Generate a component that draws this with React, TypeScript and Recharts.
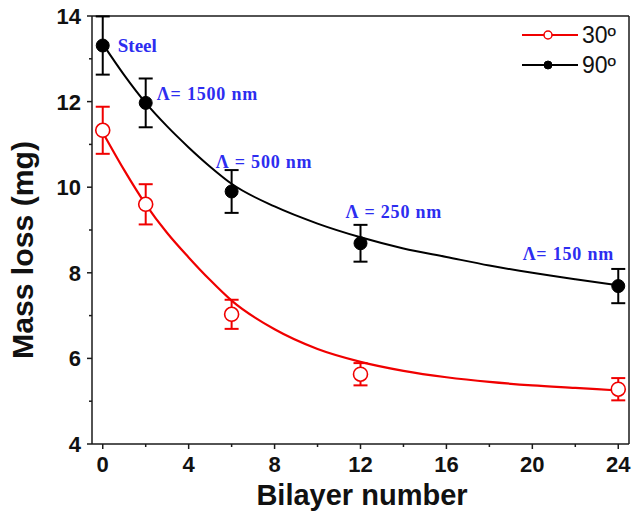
import React from 'react';
import {
  ComposedChart,
  Line,
  XAxis,
  YAxis,
  ErrorBar,
  ReferenceLine,
  ReferenceDot,
  Legend,
  Label,
} from 'recharts';

// Measured points
const bilayers = [0, 2, 6, 12, 24];
const mass30 = [11.33, 9.6, 7.03, 5.63, 5.28];
const err30 = [0.55, 0.47, 0.34, 0.26, 0.26];
const mass90 = [13.31, 11.97, 9.9, 8.69, 7.69];
const err90 = [0.68, 0.57, 0.5, 0.43, 0.4];

// Fitted curves
const fitX = [0, 1, 2, 3, 4, 5, 6, 8, 10, 12, 14, 16, 18, 20, 22, 24];
const fit30 = [11.28, 10.4, 9.6, 8.93, 8.36, 7.83, 7.35, 6.68, 6.22, 5.92, 5.71, 5.56, 5.45, 5.37, 5.31, 5.25];
const fit90 = [13.35, 12.62, 11.97, 11.42, 10.93, 10.48, 10.08, 9.55, 9.15, 8.83, 8.57, 8.37, 8.17, 8.0, 7.85, 7.71];

const xTicks = [0, 2, 4, 6, 8, 10, 12, 14, 16, 18, 20, 22, 24];
const yTicks = [4, 5, 6, 7, 8, 9, 10, 11, 12, 13, 14];

const seriesNames = ['30º', '90º'];
const annotationTexts = ['Steel', 'Λ= 1500 nm', 'Λ = 500 nm', 'Λ = 250 nm', 'Λ= 150 nm'];
const annotationX = [0.7, 2.52, 5.26, 11.3, 19.55];
const annotationY = [13.17, 12.04, 10.44, 9.27, 8.3];

const pts30 = bilayers.map((x, i) => ({ x, y: mass30[i], err: err30[i] }));
const pts90 = bilayers.map((x, i) => ({ x, y: mass90[i], err: err90[i] }));
const fitData30 = fitX.map((x, i) => ({ x, y: fit30[i] }));
const fitData90 = fitX.map((x, i) => ({ x, y: fit90[i] }));

const RED = '#f00000';
const BLACK = '#000000';
const AXIS = '#1a1a1a';
const BLUE = '#2d2df0';
const SANS = '"Liberation Sans", Arial, Helvetica, sans-serif';
const SERIF = '"Liberation Serif", "Times New Roman", serif';

const XTick = (props: any) => {
  const { x, y, payload } = props;
  const major = payload.value % 4 === 0;
  return (
    <g>
      <line x1={x} y1={y} x2={x} y2={y + (major ? 5 : 3)} stroke={AXIS} strokeWidth={1.5} />
      {major && (
        <text x={x} y={y + 28} textAnchor="middle" fontFamily={SANS} fontWeight="bold" fontSize={22} fill="#111">
          {payload.value}
        </text>
      )}
    </g>
  );
};

const YTick = (props: any) => {
  const { x, y, payload } = props;
  const major = payload.value % 2 === 0;
  return (
    <g>
      <line x1={x} y1={y} x2={x - (major ? 5 : 3)} y2={y} stroke={AXIS} strokeWidth={1.5} />
      {major && (
        <text x={x - 11} y={y} dy="0.36em" textAnchor="end" fontFamily={SANS} fontWeight="bold" fontSize={22} fill="#111">
          {payload.value}
        </text>
      )}
    </g>
  );
};

const renderLegend = () => (
  <svg width={120} height={64} style={{ display: 'block' }}>
    <line x1={4} y1={17} x2={60} y2={17} stroke={RED} strokeWidth={2} />
    <circle cx={30} cy={17} r={4} fill="#fff" stroke={RED} strokeWidth={1.5} />
    <text x={64} y={25} fontFamily={SANS} fontSize={23} fill="#111">{seriesNames[0]}</text>
    <line x1={4} y1={47} x2={60} y2={47} stroke={BLACK} strokeWidth={2} />
    <circle cx={30} cy={47} r={4} fill={BLACK} stroke={BLACK} strokeWidth={1} />
    <text x={64} y={55} fontFamily={SANS} fontSize={23} fill="#111">{seriesNames[1]}</text>
  </svg>
);

const makeAnnotation = (text: string, i: number) => (props: any) => {
  const vb = props.viewBox || {};
  const cx = (vb.x || 0) + (vb.width || 0) / 2;
  const cy = (vb.y || 0) + (vb.height || 0) / 2;
  return (
    <text
      x={cx}
      y={cy}
      textAnchor="start"
      fontFamily={SERIF}
      fontWeight="bold"
      fontSize={i === 0 ? 19 : 18}
      letterSpacing={i === 0 ? 0 : 0.8}
      fill={BLUE}
    >
      {text}
    </text>
  );
};

const renderYLabel = () => (
  <text
    x={33}
    y={250}
    transform="rotate(-90, 33, 250)"
    textAnchor="middle"
    fontFamily={SANS}
    fontWeight="bold"
    fontSize={29}
    textLength={218}
    lengthAdjust="spacingAndGlyphs"
    fill="#111"
  >
    Mass loss (mg)
  </text>
);

const renderXLabel = () => (
  <text x={362} y={505} textAnchor="middle" fontFamily={SANS} fontWeight="bold" fontSize={29} fill="#111">
    Bilayer number
  </text>
);

export default function App() {
  return (
    <div style={{ position: 'absolute', left: 0, top: 0, width: 633, height: 512, overflow: 'hidden', background: '#fff' }}>
      <ComposedChart width={633} height={512} margin={{ top: 16, right: 4, left: 8, bottom: 0 }}>
        <XAxis
          dataKey="x"
          type="number"
          domain={[-0.5, 24.5]}
          ticks={xTicks}
          interval={0}
          allowDataOverflow
          height={68}
          tickSize={0}
          tickMargin={0}
          tickLine={false}
          tick={<XTick />}
          axisLine={{ stroke: AXIS, strokeWidth: 1.5 }}
        >
          <Label content={renderXLabel} />
        </XAxis>
        <YAxis
          type="number"
          domain={[4, 14]}
          ticks={yTicks}
          interval={0}
          allowDataOverflow
          width={84}
          tickSize={0}
          tickMargin={0}
          tickLine={false}
          tick={<YTick />}
          axisLine={{ stroke: AXIS, strokeWidth: 1.5 }}
        >
          <Label content={renderYLabel} />
        </YAxis>
        <ReferenceLine y={14} stroke={AXIS} strokeWidth={1.5} />
        <ReferenceLine x={24.5} stroke={AXIS} strokeWidth={1.5} />

        <Line
          data={fitData30}
          dataKey="y"
          type="monotone"
          stroke={RED}
          strokeWidth={2.2}
          dot={false}
          activeDot={false}
          legendType="none"
          isAnimationActive={false}
        />
        <Line
          data={fitData90}
          dataKey="y"
          type="monotone"
          stroke={BLACK}
          strokeWidth={2}
          dot={false}
          activeDot={false}
          legendType="none"
          isAnimationActive={false}
        />
        <Line
          data={pts30}
          dataKey="y"
          name={seriesNames[0]}
          stroke="none"
          dot={{ r: 7, fill: '#fff', stroke: RED, strokeWidth: 1.6 }}
          activeDot={false}
          isAnimationActive={false}
        >
          <ErrorBar dataKey="err" width={7} stroke={RED} strokeWidth={2} direction="y" />
        </Line>
        <Line
          data={pts90}
          dataKey="y"
          name={seriesNames[1]}
          stroke="none"
          dot={{ r: 6.5, fill: BLACK, stroke: BLACK, strokeWidth: 1 }}
          activeDot={false}
          isAnimationActive={false}
        >
          <ErrorBar dataKey="err" width={7} stroke={BLACK} strokeWidth={2} direction="y" />
        </Line>

        {annotationTexts.map((t, i) => (
          <ReferenceDot
            key={t}
            x={annotationX[i]}
            y={annotationY[i]}
            r={0}
            fill="none"
            stroke="none"
            ifOverflow="visible"
            label={{ content: makeAnnotation(t, i) }}
          />
        ))}

        <Legend
          layout="vertical"
          align="center"
          verticalAlign="middle"
          content={renderLegend}
          wrapperStyle={{ position: 'absolute', left: 518, top: 18, width: 120, height: 64 }}
        />
      </ComposedChart>
    </div>
  );
}
